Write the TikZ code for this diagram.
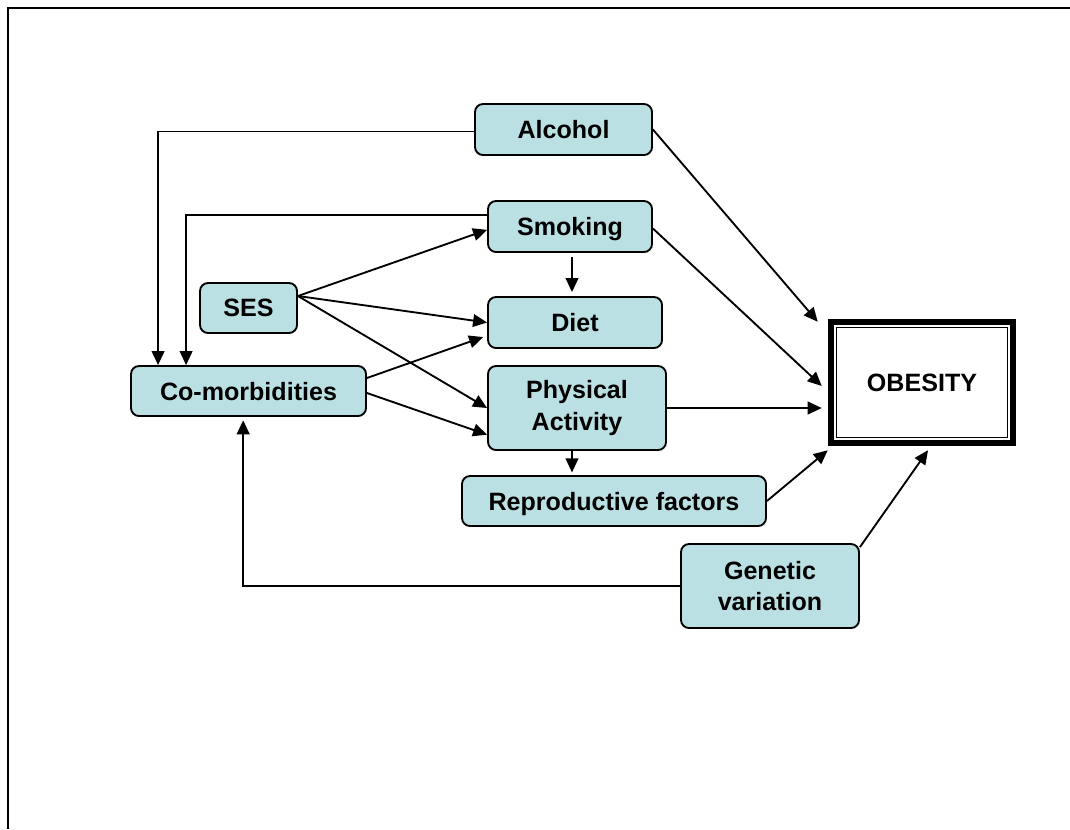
\documentclass[tikz,border=0pt]{standalone}
\usepackage{fontspec}
\setmainfont{Liberation Sans}
\usetikzlibrary{arrows.meta,calc}
\definecolor{boxfill}{RGB}{187,224,227}
\begin{document}
\begin{tikzpicture}[x=0.75pt,y=-0.75pt,
  factor/.style={draw=black, line width=1.4pt, fill=boxfill, rounded corners=6pt,
    inner sep=0pt, align=center, font=\fontsize{18.8}{23.5}\selectfont\bfseries},
  oneline/.style={factor, text depth=0pt},
  arr/.style={line width=1.4pt, -{Triangle[length=10.5pt,width=9.5pt]}},
  frame/.style={line width=1.9pt}]
\useasboundingbox (0,0) rectangle (1070,829);
\draw[frame] (8,829) -- (8,8) -- (1070,8);

\node[oneline, minimum width=132.75pt, minimum height=38.25pt] (alc) at (563.5,129.5) {Alcohol};
\node[oneline, minimum width=123pt, minimum height=38.25pt] (smk) at (570,226.5) {Smoking};
\node[oneline, minimum width=72.75pt, minimum height=37.5pt] (ses) at (248.5,308) {SES};
\node[oneline, minimum width=130.5pt, minimum height=38.25pt] (diet) at (575,322.5) {Diet};
\node[oneline, minimum width=176.25pt, minimum height=37.5pt] (com) at (248.5,391) {Co-morbidities};
\node[factor, minimum width=133.5pt, minimum height=63pt] (pa) at (577,408) {Physical\\Activity};
\node[oneline, minimum width=228pt, minimum height=37.5pt] (rep) at (614,501) {Reproductive factors};
\node[factor, minimum width=133.5pt, minimum height=63pt] (gen) at (770,586) {Genetic\\variation};
\node[inner sep=0pt, minimum width=141pt, minimum height=95.25pt, text depth=0pt,
  font=\fontsize{18.8}{23}\selectfont\bfseries] (obe) at (922,382.5) {OBESITY};
\draw[line width=4.5pt] ([shift={(2.25pt,-2.25pt)}]obe.north west) rectangle ([shift={(-2.25pt,2.25pt)}]obe.south east);
\draw[line width=0.9pt] ([shift={(6.6pt,-6.6pt)}]obe.north west) rectangle ([shift={(-6.6pt,6.6pt)}]obe.south east);

% feedback lines into co-morbidities
\draw[arr] ([yshift=-1.5pt]alc.west) -| ([xshift=21pt]com.north west);
\draw[arr] ([yshift=8.6pt]smk.west) -| ([xshift=42pt]com.north west);
\draw[arr] (gen.west) -| ([xshift=-4pt,yshift=-2.5pt]com.south);

% SES
\coordinate (sesout) at ([yshift=9pt]ses.east);
\draw[arr] (sesout) -- ([yshift=-2.5pt]smk.west);
\draw[arr] (sesout) -- (diet.west);
\draw[arr] (sesout) -- (pa.west);

% co-morbidities
\draw[arr] ([yshift=9.75pt]com.east) -- ([xshift=-3pt,yshift=-10.9pt]diet.west);
\draw[arr] ([yshift=-1.5pt]com.east) -- ([yshift=-20pt]pa.west);

% vertical small arrows
\draw[arr] ([xshift=1.5pt,yshift=-3pt]smk.south) -- ([xshift=1.5pt,yshift=3pt]smk.south |- diet.north);
\draw[arr] ([xshift=-3.75pt]pa.south) -- ([xshift=-3.75pt,yshift=2pt]pa.south |- rep.north);

% into obesity
\draw[arr] (alc.east) -- ([xshift=-7.5pt,yshift=-2.25pt]obe.north west);
\draw[arr] ([yshift=-1.5pt]smk.east) -- ([xshift=-4.5pt,yshift=-2.6pt]obe.west);
\draw[arr] (pa.east) -- ([xshift=-4.5pt]obe.west |- pa.east);
\draw[arr] (rep.east) -- ([yshift=-3pt]obe.south west);
\draw[arr] ([yshift=-3pt]gen.north east) -- ([xshift=4.5pt,yshift=-3pt]obe.south);
\end{tikzpicture}
\end{document}
